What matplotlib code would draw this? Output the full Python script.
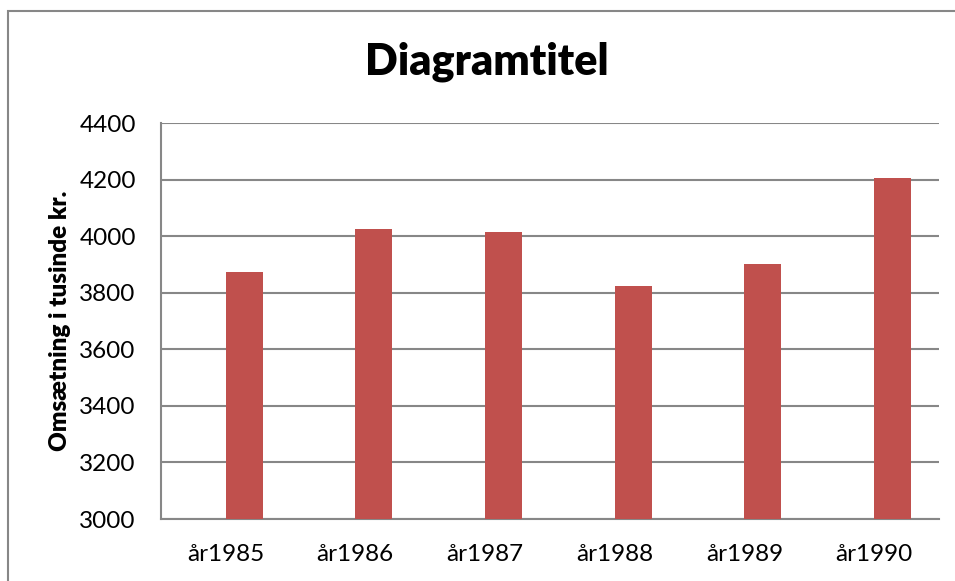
import matplotlib
matplotlib.use("Agg")
import matplotlib.pyplot as plt
from matplotlib.patches import Rectangle

# omsætning pr. år (tusinde kr.)
years = ["år1985", "år1986", "år1987", "år1988", "år1989", "år1990"]
revenue = [3873, 4026, 4014, 3826, 3901, 4206]
y_ticks = [3000, 3200, 3400, 3600, 3800, 4000, 4200, 4400]

bar_color = "#C0504D"
line_color = "#878787"

plt.rcParams["font.family"] = ["Lato", "DejaVu Sans"]

fig = plt.figure(figsize=(9.55, 5.81), dpi=100)
ax = fig.add_axes([0.1683, 0.1067, 0.8149, 0.6811])

# frame around the chart area (only left and top are inside the canvas)
fig.patches.append(Rectangle((7.5 / 955, -0.05), 1.1, 1 - 10.7 / 581 + 0.05,
                             transform=fig.transFigure, fill=False,
                             edgecolor=line_color, linewidth=1.5))

# clustered layout with two slots per category; the data sits in the second slot
x = list(range(len(years)))
ax.bar(x, revenue, width=1 / 3.5, align="edge", color=bar_color, zorder=3)

ax.set_xlim(-0.5, len(years) - 0.5)
ax.set_ylim(3000, 4400)
ax.set_yticks(y_ticks)
ax.set_xticks(x)
ax.set_xticklabels(years)

ax.yaxis.grid(True, color=line_color, linewidth=1.5, zorder=0)
ax.set_axisbelow(True)
for side in ["top", "right"]:
    ax.spines[side].set_visible(False)
for side in ["left", "bottom"]:
    ax.spines[side].set_color(line_color)
    ax.spines[side].set_linewidth(1.5)

ax.tick_params(axis="both", length=0, labelsize=17.5)
ax.tick_params(axis="y", pad=18)
ax.tick_params(axis="x", pad=18)

ax.set_ylabel("Omsætning i tusinde kr.", fontsize=17.5, fontweight="heavy", labelpad=6)
fig.text(487 / 955, 1 - 62 / 581, "Diagramtitel", ha="center", va="center",
         fontsize=31, fontweight="heavy")

fig.savefig("out.png", dpi=100)
